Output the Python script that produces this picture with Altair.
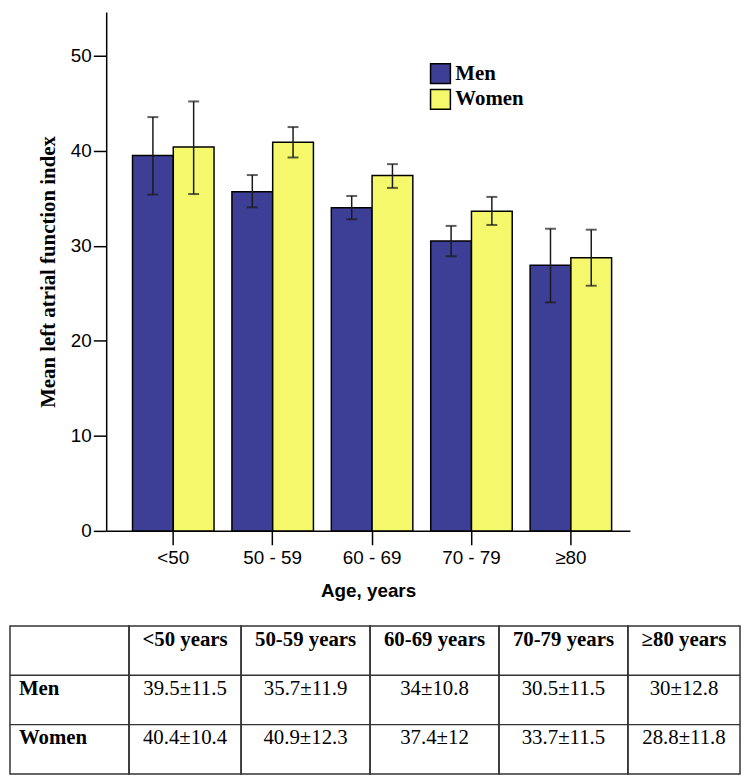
import altair as alt
import pandas as pd

# ---- chart data ----
ages = ["<50", "50 - 59", "60 - 69", "70 - 79", "≥80"]
sexes = ["Men", "Women"]
men_mean = [39.5, 35.7, 34.0, 30.5, 27.95]
men_lo = [35.4, 34.05, 32.8, 28.9, 24.05]
men_hi = [43.55, 37.45, 35.25, 32.1, 31.8]
women_mean = [40.4, 40.9, 37.4, 33.65, 28.75]
women_lo = [35.45, 39.3, 36.1, 32.2, 25.8]
women_hi = [45.2, 42.5, 38.6, 35.15, 31.7]
y_ticks = [0, 10, 20, 30, 40, 50]

# ---- table data ----
table_header = ["", "<50 years", "50-59 years", "60-69 years", "70-79 years", "≥80 years"]
table_row_labels = ["Men", "Women"]
men_table = ["39.5±11.5", "35.7±11.9", "34±10.8", "30.5±11.5", "30±12.8"]
women_table = ["40.4±10.4", "40.9±12.3", "37.4±12", "33.7±11.5", "28.8±11.8"]

rows = []
for i, a in enumerate(ages):
    rows.append({"age": a, "sex": "Men", "value": men_mean[i], "lo": men_lo[i], "hi": men_hi[i]})
    rows.append({"age": a, "sex": "Women", "value": women_mean[i], "lo": women_lo[i], "hi": women_hi[i]})
df = pd.DataFrame(rows)

SANS = "Liberation Sans"
SERIF = "Liberation Serif"
INK = "#000000"
YTITLE = "Mean left atrial function index"

xaxis = alt.Axis(labelAngle=0, labelFont=SANS, labelFontSize=19, labelColor=INK,
                 labelPadding=4, tickSize=14, tickColor=INK, tickWidth=1.5,
                 domainColor=INK, domainWidth=1.5, titleFont=SANS, titleFontSize=19,
                 titleFontWeight="bold", titleColor=INK, titlePadding=14)
yaxis = alt.Axis(values=y_ticks, grid=False, labelFont=SANS, labelFontSize=19, labelColor=INK,
                 labelPadding=2, tickSize=13, tickColor=INK, tickWidth=1.5,
                 domainColor=INK, domainWidth=1.5, titleFont=SERIF, titleFontSize=21,
                 titleFontWeight="bold", titleColor=INK, titlePadding=12)
x = alt.X("age:N", sort=ages, title="Age, years", axis=xaxis,
          scale=alt.Scale(paddingInner=0.18, paddingOuter=0.2245, align=0.59))
xoff = alt.XOffset("sex:N", sort=sexes, scale=alt.Scale(paddingInner=0, paddingOuter=0))
yscale = alt.Scale(domain=[0, 54.6], nice=False)

base = alt.Chart(df)
bars = base.mark_bar(stroke="black", strokeWidth=1.5).encode(
    x=x, xOffset=xoff,
    y=alt.Y("value:Q", scale=yscale, axis=yaxis, title=YTITLE),
    color=alt.Color("sex:N", sort=sexes,
                    scale=alt.Scale(domain=sexes, range=["#3d3f96", "#f5f86b"]),
                    legend=alt.Legend(orient="none", legendX=423, legendY=51, title=None,
                                      symbolType="square", symbolSize=400,
                                      symbolStrokeColor="black", symbolStrokeWidth=1.5,
                                      symbolOpacity=1, labelFont=SERIF, labelFontSize=21,
                                      labelFontWeight="bold", labelColor=INK,
                                      rowPadding=0, labelOffset=4)),
)
rules = base.mark_rule(color="#1a1a1a", strokeWidth=1.5).encode(
    x=x, xOffset=xoff,
    y=alt.Y("lo:Q", scale=yscale, axis=yaxis, title=YTITLE), y2="hi:Q")
cap_hi = base.mark_tick(color="#1a1a1a", size=11, thickness=2, orient="horizontal").encode(
    x=x, xOffset=xoff, y=alt.Y("hi:Q", scale=yscale, axis=yaxis, title=YTITLE))
cap_lo = base.mark_tick(color="#1a1a1a", size=11, thickness=2, orient="horizontal").encode(
    x=x, xOffset=xoff, y=alt.Y("lo:Q", scale=yscale, axis=yaxis, title=YTITLE))

bar_chart = alt.layer(bars, rules, cap_hi, cap_lo).properties(width=528, height=523)

spacer = alt.Chart(pd.DataFrame({"a": [0]})).mark_text().encode(
    text=alt.value("")).properties(width=17, height=10)

top_row = alt.hconcat(spacer, bar_chart, spacing=10)

# ---- table ----
col_widths = [120, 113, 130, 130, 130, 113]
row_keys = ["head", "Men", "Women"]
yrow = alt.Y("row:N", sort=row_keys, axis=None,
             scale=alt.Scale(domain=row_keys, paddingInner=0, paddingOuter=0), bandPosition=0.28)
yline = alt.Y("row:N", sort=row_keys, axis=None,
              scale=alt.Scale(domain=row_keys, paddingInner=0, paddingOuter=0), bandPosition=0)

cols = []
for i, w in enumerate(col_widths):
    if i == 0:
        texts = [table_header[0]] + table_row_labels
        bold = [True, True, True]
    else:
        texts = [table_header[i], men_table[i - 1], women_table[i - 1]]
        bold = [True, False, False]
    d = pd.DataFrame({"row": row_keys, "text": texts, "bold": bold})
    cb = alt.Chart(d)
    lines = cb.mark_rule(color="#333333", strokeWidth=1.5).encode(y=yline).transform_filter(
        "datum.row != 'head'")
    if i == 0:
        t_b = cb.mark_text(font=SERIF, fontSize=21, fontWeight="bold", color=INK,
                           align="left", baseline="middle", dx=-(w / 2) + 9).encode(
            y=yrow, text="text:N").transform_filter("datum.bold")
        layers = [lines, t_b]
    else:
        t_b = cb.mark_text(font=SERIF, fontSize=21, fontWeight="bold", color=INK,
                           align="center", baseline="middle").encode(
            y=yrow, text="text:N").transform_filter("datum.bold")
        t_n = cb.mark_text(font=SERIF, fontSize=21, color=INK,
                           align="center", baseline="middle").encode(
            y=yrow, text="text:N").transform_filter("!datum.bold")
        layers = [lines, t_b, t_n]
    cols.append(alt.layer(*layers).properties(
        width=w, height=149,
        view=alt.ViewBackground(stroke="#333333", strokeWidth=1.5)))

table = alt.hconcat(*cols, spacing=0, bounds="flush")

chart = alt.vconcat(top_row, table, spacing=25).properties(
    padding=0, background="white"
).configure_view(strokeWidth=0)

chart.save("out.html", embed_options={"renderer": "svg", "actions": False})
